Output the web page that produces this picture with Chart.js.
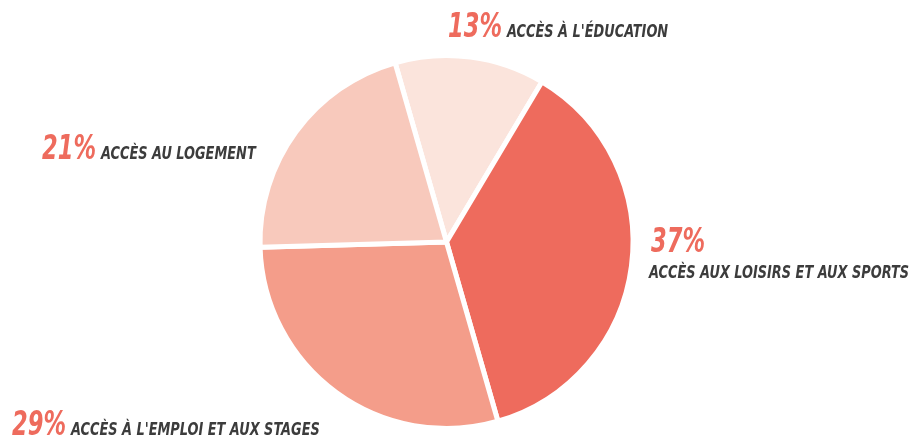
<!DOCTYPE html>
<html lang="fr">
<head>
<meta charset="UTF-8">
<title>Répartition des accès</title>
<script src="https://cdn.jsdelivr.net/npm/chart.js"></script>
<style>
  html, body { margin: 0; padding: 0; background: #fff; }
  #wrap { width: 912px; height: 438px; position: relative; }
</style>
</head>
<body>
<div id="wrap"><canvas id="pie" width="912" height="438"></canvas></div>
<script>
// data
var categories = ["ACCÈS À L'ÉDUCATION", 'ACCÈS AUX LOISIRS ET AUX SPORTS', "ACCÈS À L'EMPLOI ET AUX STAGES", 'ACCÈS AU LOGEMENT'];
var values = [13, 37, 29, 21];
var sliceColors = ['#FBE4DC', '#EE6B5D', '#F49D8A', '#F8C9BC'];

// where each label goes (x, y of the percent baseline), and if the text wraps below
var labelSpots = [
    { x: 448, y: 37, wrap: false },
    { x: 651, y: 252, wrap: true },
    { x: 12, y: 435, wrap: false },
    { x: 42, y: 159, wrap: false }
];

var FONT = '"DejaVu Sans Condensed", sans-serif';

// the original type is a narrow gothic, so squeeze the condensed face a bit
function squeezedText(ctx, txt, x, y, sx) {
    ctx.save();
    ctx.translate(x, y);
    ctx.scale(sx, 1);
    ctx.fillText(txt, 0, 0);
    ctx.restore();
    return ctx.measureText(txt).width * sx;
}

var labelPlugin = {
    id: 'outsideLabels',
    afterDraw: function (chart) {
        var ctx = chart.ctx;
        ctx.save();
        ctx.textBaseline = 'alphabetic';
        ctx.textAlign = 'left';
        categories.forEach(function (name, i) {
            var spot = labelSpots[i];
            var pct = values[i] + '%';
            ctx.font = 'italic bold 33px ' + FONT;
            ctx.fillStyle = '#EE6B5D';
            var w = squeezedText(ctx, pct, spot.x, spot.y, 0.76);
            ctx.font = 'italic bold 18.5px ' + FONT;
            ctx.fillStyle = '#3c3c3c';
            if (spot.wrap) {
                squeezedText(ctx, name, spot.x - 2, spot.y + 26, 0.775);
            } else {
                squeezedText(ctx, name, spot.x + w + 5, spot.y, 0.775);
            }
        });
        ctx.restore();
    }
};

var ctxPie = document.getElementById('pie').getContext('2d');
var pieChart = new Chart(ctxPie, {
    type: 'pie',
    data: {
        labels: categories,
        datasets: [{
            data: values,
            backgroundColor: sliceColors,
            borderColor: '#ffffff',
            borderWidth: 5
        }]
    },
    options: {
        responsive: false,
        animation: false,
        rotation: -16,
        layout: {
            padding: { left: 257, right: 276, top: 53, bottom: 7 }
        },
        plugins: {
            legend: { display: false },
            tooltip: { enabled: false }
        }
    },
    plugins: [labelPlugin]
});
</script>
</body>
</html>
